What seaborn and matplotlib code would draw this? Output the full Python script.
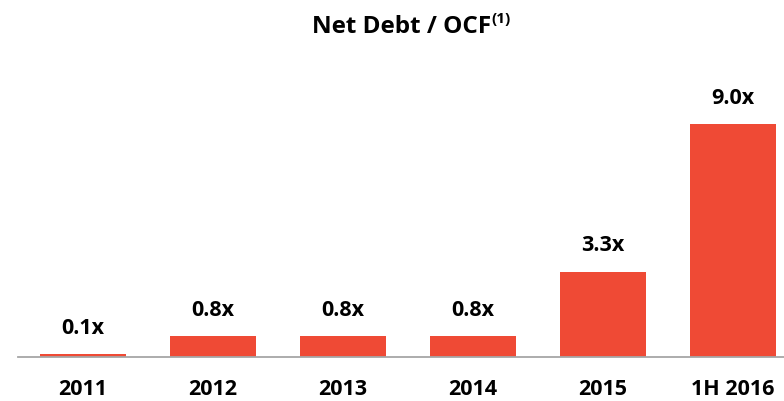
import matplotlib
matplotlib.use("Agg")
import matplotlib.pyplot as plt
import seaborn as sns
import pandas as pd
import numpy as np

periods = ["2011", "2012", "2013", "2014", "2015", "1H 2016"]
net_debt_to_ocf = [0.1, 0.8, 0.8, 0.8, 3.3, 9.0]

bar_color = "#EF4A35"
axis_color = "#A6A6A6"

sns.set_theme(style="white")
plt.rcParams["font.family"] = ["Open Sans", "DejaVu Sans"]

df = pd.DataFrame({"period": periods, "ratio": net_debt_to_ocf})

fig = plt.figure(figsize=(7.84, 4.01), dpi=100)
ax = fig.add_axes([18 / 784, 44 / 401, 780 / 784, 259 / 401])

sns.barplot(data=df, x="period", y="ratio", color=bar_color, width=0.66,
            saturation=1, linewidth=0, ax=ax)

ax.set_ylim(0, 10)
ax.set_xlim(-0.5, len(periods) - 0.5)

for s in ["top", "right", "left"]:
    ax.spines[s].set_visible(False)
ax.spines["bottom"].set_color(axis_color)
ax.spines["bottom"].set_linewidth(1.3)

ax.set_yticks([])
ax.set_xlabel("")
ax.set_ylabel("")

# category labels without marks; boundary marks as minor ticks
ax.tick_params(axis="x", which="major", length=0, pad=16, labelsize=15.5,
               labelcolor="black")
for lab in ax.get_xticklabels():
    lab.set_fontweight("bold")
ax.set_xticks(np.arange(-0.5, len(periods) + 0.5, 1), minor=True)
ax.tick_params(axis="x", which="minor", length=5.5, width=1.3,
               color=axis_color, direction="out")

ax.bar_label(ax.containers[0], labels=[f"{v:.1f}x" for v in net_debt_to_ocf],
             padding=11, fontsize=15.5, fontweight="bold", color="black")

title = fig.text(402 / 784, 1 - 27 / 401, "Net Debt / OCF", ha="center",
                 va="center", fontsize=17.5, fontweight="bold", color="black")
fig.canvas.draw()
ax.annotate("(1)", xy=(1, 1), xycoords=title, xytext=(0, 2),
            textcoords="offset points", ha="left", va="top",
            fontsize=11, fontweight="bold", color="black",
            annotation_clip=False)

fig.savefig("out.png", dpi=100)
